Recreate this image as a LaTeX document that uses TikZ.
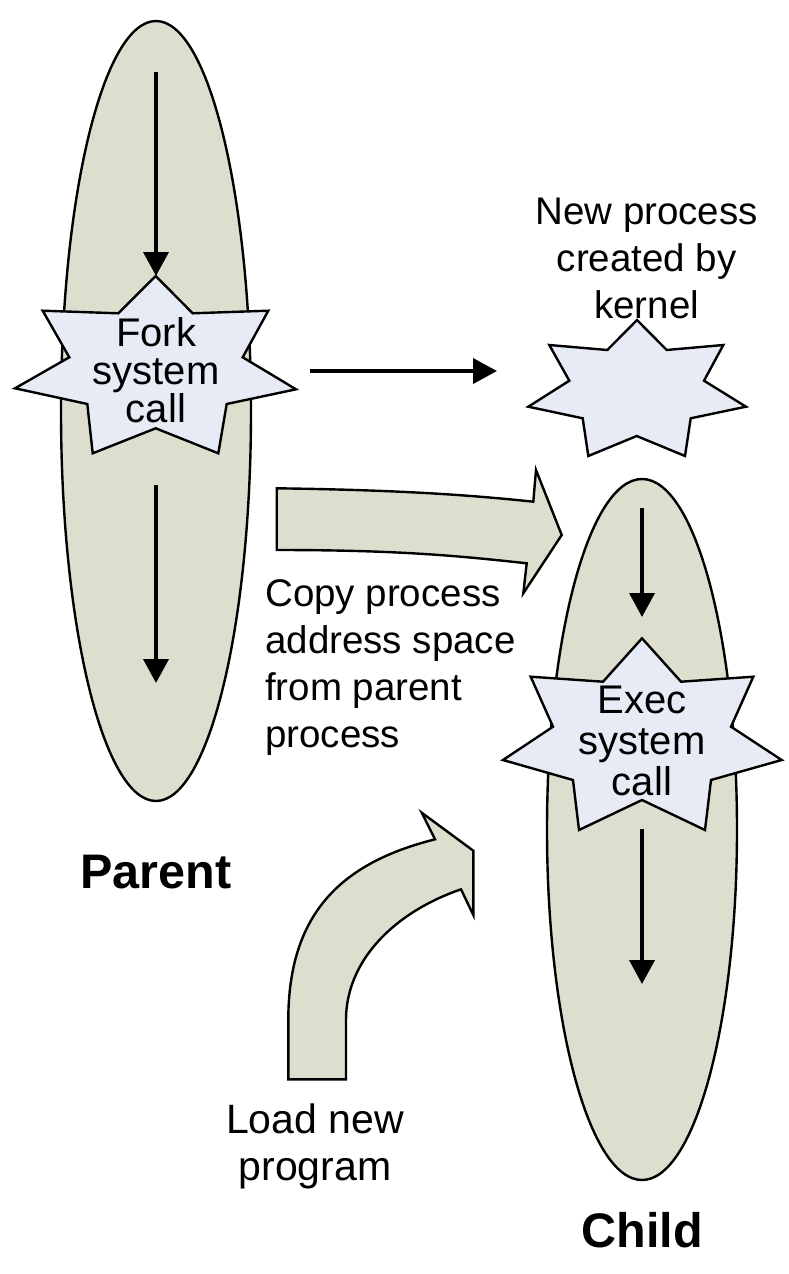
\documentclass[tikz,border=0pt]{standalone}
\usepackage{fontspec}
\setmainfont{Liberation Sans}
\usetikzlibrary{arrows.meta,shapes.geometric}
\definecolor{procfill}{RGB}{221,222,206}
\definecolor{starfill}{RGB}{231,235,245}
\begin{document}
\begin{tikzpicture}[x=1pt,y=-1pt,
  proc/.style={ellipse,draw,line width=2.4pt,fill=procfill,inner sep=0pt},
  burst/.style={draw,line width=2.4pt,fill=starfill,line join=miter},
  blockarrow/.style={draw,line width=2.4pt,fill=procfill,line join=miter},
  flow/.style={line width=3.8pt,-{Triangle[length=24pt,width=25pt]}},
  lbl/.style={inner sep=0pt,anchor=base,align=center,font={\fontsize{38.5}{47}\selectfont}},
  startxt/.style={inner sep=0pt,anchor=base,align=center,font={\fontsize{40}{38}\selectfont}},
  title/.style={inner sep=0pt,anchor=base,font={\fontsize{48.5}{50}\selectfont\bfseries}}
]
\useasboundingbox (0,0) rectangle (788,1274);

% process ellipses
\node[proc,minimum width=190pt,minimum height=780pt] (parent) at (156,411) {};
\node[proc,minimum width=190pt,minimum height=701pt] (child) at (642,829.5) {};

% flow arrows inside parent
\coordinate (p1) at (156,72);
\coordinate (p2) at (156,276);
\coordinate (p3) at (156,485);
\coordinate (p4) at (156,683);
\draw[flow] (p1) -- (p2);
\draw[flow] (p3) -- (p4);

% flow arrows inside child
\coordinate (c1) at (642,508);
\coordinate (c2) at (642,617);
\coordinate (c3) at (642,829);
\coordinate (c4) at (642,984);
\draw[flow] (c1) -- (c2);
\draw[flow] (c3) -- (c4);

% Fork star
\draw[burst] (155.7,276) -- (192.7,313.3) -- (268.3,310.7) -- (242.7,357.3) -- (296,389.3)
  -- (226.7,404) -- (218.3,453.3) -- (155.7,428.3) -- (92.7,453.3) -- (87.3,404)
  -- (15,388.3) -- (69.3,357.3) -- (42.7,310.7) -- (118.3,313.3) -- cycle;
\node[startxt] (fork) at (156,422) {Fork\\system\\call};

% Exec star
\draw[burst] (642,638.3) -- (681,681.7) -- (753.3,676.7) -- (731,726.7) -- (781.7,760)
  -- (711,780) -- (705,830) -- (642,800) -- (579,830) -- (573,780)
  -- (503,760) -- (553,726.7) -- (530.7,676.7) -- (603,681.7) -- cycle;
\node[startxt,font={\fontsize{40}{41}\selectfont}] (exec) at (642,795) {Exec\\system\\call};

% New process star
\draw[burst] (637,320) -- (666.7,350) -- (723.3,345) -- (704,380.7) -- (746,406.7)
  -- (690.7,418.3) -- (685,456) -- (636.7,436) -- (588.3,456) -- (582.7,418.3)
  -- (528.3,406.7) -- (569.3,380.7) -- (549.3,345) -- (607.3,350) -- cycle;
\node[lbl] (newproc) at (646.7,318) {New process\\created by\\kernel};

% horizontal arrow
\coordinate (h1) at (310,371);
\coordinate (h2) at (497,371);
\draw[flow] (h1) -- (h2);

% copy block arrow
\draw[blockarrow] (276.7,488.3) .. controls (400,490) and (470,495) .. (533.3,501.7)
  -- (536,470) -- (561.7,535) -- (523.3,593.3) -- (526.7,563.3)
  .. controls (460,556) and (400,550) .. (276.7,550) -- cycle;
\node[lbl,anchor=base west,align=left] (copy) at (265,747) {Copy process\\address space\\from parent\\process};

% load curved block arrow
\draw[blockarrow] (288.3,1079.3) -- (288.3,1020) .. controls (288.3,910) and (345,862) .. (435,839.3)
  -- (421.7,812.7) -- (473.3,850.7) -- (473.3,915) -- (461,889.3)
  .. controls (395,912) and (346,960) .. (346,1020) -- (346,1079.3) -- cycle;
\node[lbl,font={\fontsize{41}{47}\selectfont}] (load) at (315,1180) {Load new\\program};

% titles
\node[title] (parentlbl) at (156,888) {Parent};
\node[title] (childlbl) at (642,1247) {Child};
\end{tikzpicture}
\end{document}
